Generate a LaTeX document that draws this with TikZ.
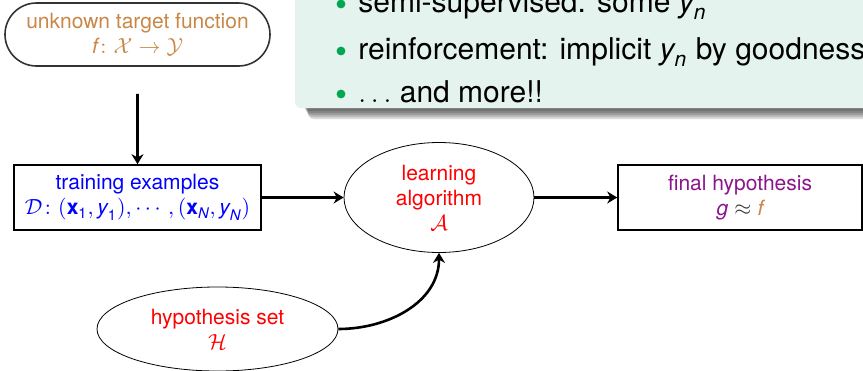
\documentclass[tikz,border=0pt]{standalone}
\usepackage{amsmath}
\usepackage{fontspec}
\setmainfont{TeX Gyre Heros}
\usetikzlibrary{shapes.geometric, shapes.misc, arrows.meta}

\definecolor{targetbrown}{RGB}{200,135,70}
\definecolor{hypopurple}{RGB}{140,20,140}
\definecolor{notefill}{RGB}{228,243,238}
\definecolor{notegreen}{RGB}{0,166,81}

\tikzset{
    flowbox/.style = {draw, thick, align = center, inner sep = 0pt, font = \fontsize{10.5}{12.5}\selectfont},
    flowarrow/.style = {-{Stealth[length = 5pt, width = 6pt]}, line width = 1.3pt},
    noteitem/.style = {anchor = base west, inner sep = 0pt, font = \fontsize{15}{17}\selectfont},
}

\begin{document}
\begin{tikzpicture}[x = 0.5pt, y = -0.5pt]
        \useasboundingbox (0, 0) rectangle (863, 370);
        \clip (0, 0) rectangle (863, 370);
        % note box with its shadow
        \foreach \d in {0, ..., 4}
            \fill[black, opacity = 0.15, rounded corners = 3pt] (304 + \d, -60) rectangle (900, 111 + 2*\d);
        \fill[notefill, rounded corners = 3pt] (295, -60) rectangle (900, 108);
        \foreach \y in {4, 51, 94}
            \fill[notegreen] (341, \y) circle (2.2pt);
        \node[noteitem] (semi) at (358, 12) {semi-supervised: some $\textit{y}_{\textit{n}}$};
        \node[noteitem] (reinf) at (358, 59) {reinforcement: implicit $\textit{y}_{\textit{n}}$ by goodness(};
        \node[noteitem] (more) at (358, 102) {$\ldots$ and more!!};
        % flow
        \node[flowbox, rounded rectangle, draw = black!80, text = targetbrown, minimum width = 132.5pt, minimum height = 31.5pt] (target) at (137.5, 34.5) {unknown target function\\ $\textit{f}\colon \mathcal{X} \to \mathcal{Y}$};
        \node[flowbox, text = blue, minimum width = 123.5pt, minimum height = 32.5pt] (train) at (137.5, 197.5) {training examples\\ $\mathcal{D}\colon (\textbf{x}_{\text{1}}, \textit{y}_{\text{1}}), \cdots, (\textbf{x}_{\textit{N}}, \textit{y}_{\textit{N}})$};
        \node[flowbox, ellipse, thin, text = red, minimum width = 95pt, minimum height = 55pt] (learn) at (439, 197.5) {learning\\ algorithm\\ $\mathcal{A}$};
        \node[flowbox, text = hypopurple, minimum width = 122pt, minimum height = 32.5pt] (final) at (740, 197.5) {final hypothesis\\ $\textit{g} \mathrel{\textcolor{black!80}{\approx}} \textcolor{targetbrown}{\textit{f}}$};
        \node[flowbox, ellipse, thin, text = red, minimum width = 120.5pt, minimum height = 42pt] (hypo) at (217.5, 329) {hypothesis set\\ $\mathcal{H}$};
        \draw[flowarrow, shorten < = 13.5pt] (target) -- (train);
        \draw[flowarrow] (train) -- (learn);
        \draw[flowarrow] (learn) -- (final);
        \draw[flowarrow] (hypo.east) to[out = 0, in = -90] (learn.south);
    \end{tikzpicture}
\end{document}
